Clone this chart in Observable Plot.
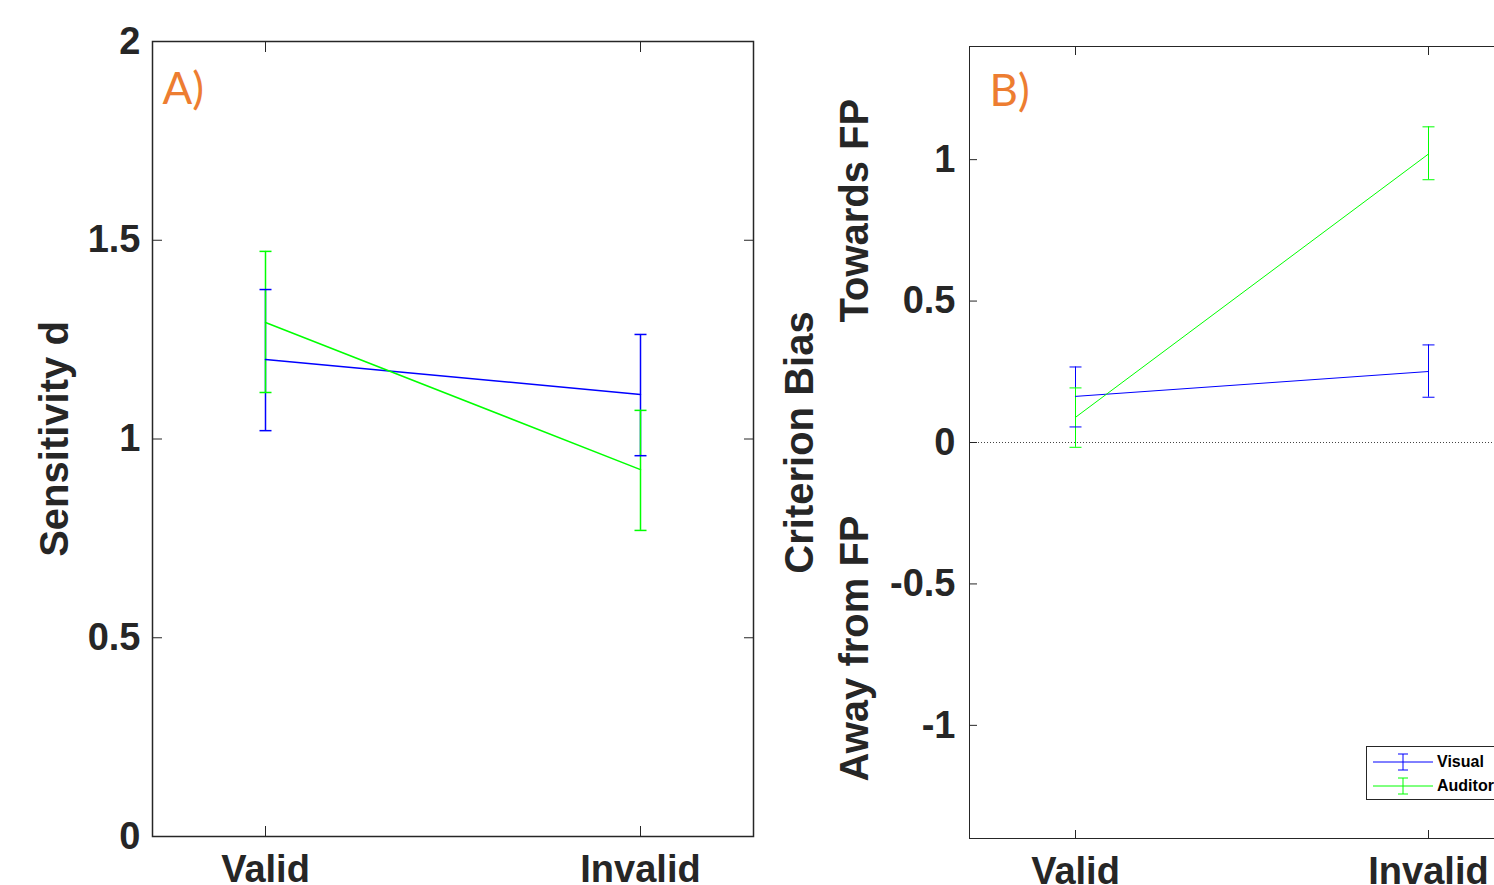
<!DOCTYPE html>
<html>
<head>
<meta charset="utf-8">
<script src="https://cdn.jsdelivr.net/npm/d3@7"></script>
<script src="https://cdn.jsdelivr.net/npm/@observablehq/plot@0.6"></script>
<style>
  html, body { margin: 0; padding: 0; background: #fff; overflow: hidden; }
  #wrap { position: relative; width: 1494px; height: 885px; overflow: hidden; background: #fff; }
  #panelA, #panelB { position: absolute; top: 0; }
  #panelA { left: 0; width: 760px; }
  #panelB { left: 760px; width: 781px; }
  #wrap svg { max-width: none !important; }
  #legend { position: absolute; left: 1366px; top: 746px; width: 150px; height: 52px;
    border: 1px solid #262626; background: #fff; font-family: "Liberation Sans", Arial, sans-serif;
    font-weight: bold; font-size: 16px; color: #000; }
  #legend .row { position: absolute; left: 0; height: 24px; display: flex; align-items: center; }
  #legend svg { display: block; }
  #legend span { margin-left: 4px; }
</style>
</head>
<body>
<div id="wrap">
  <div id="panelA"></div>
  <div id="panelB"></div>
  <div id="legend"></div>
</div>
<script>
// ---- data ----
const categories = ["Valid", "Invalid"];
const series = ["Visual", "Auditory"];
const seriesColors = ["#0000ff", "#00ff00"];
const yTicksA = [0, 0.5, 1, 1.5, 2];
const yTicksB = [-1, -0.5, 0, 0.5, 1];

// Panel A: Sensitivity d
const sensVisualMean = [1.200, 1.112];
const sensVisualLo   = [1.021, 0.958];
const sensVisualHi   = [1.376, 1.263];
const sensAudMean    = [1.293, 0.923];
const sensAudLo      = [1.117, 0.770];
const sensAudHi      = [1.472, 1.072];

// Panel B: Criterion bias
const biasVisualMean = [0.163, 0.251];
const biasVisualLo   = [0.055, 0.160];
const biasVisualHi   = [0.267, 0.345];
const biasAudMean    = [0.089, 1.020];
const biasAudLo      = [-0.017, 0.929];
const biasAudHi      = [0.193, 1.116];

function rows(mean, lo, hi, s) {
  return categories.map((c, i) => ({cat: c, series: s, mean: mean[i], lo: lo[i], hi: hi[i]}));
}
const sensRows = [...rows(sensVisualMean, sensVisualLo, sensVisualHi, "Visual"),
                  ...rows(sensAudMean, sensAudLo, sensAudHi, "Auditory")];
const biasRows = [...rows(biasVisualMean, biasVisualLo, biasVisualHi, "Visual"),
                  ...rows(biasAudMean, biasAudLo, biasAudHi, "Auditory")];

const FONT = "'Liberation Sans', Arial, Helvetica, sans-serif";
const INK = "#262626";
const empty = () => "";

// horizontal cap symbol for error bars (fixed half-width 6px)
const capSymbol = {draw(ctx) { ctx.moveTo(-6, 0); ctx.lineTo(6, 0); }};

function tickAxes(ticks, tickLen) {
  return [
    Plot.axisX({anchor: "bottom", tickSize: -tickLen, tickFormat: empty, label: null, stroke: INK}),
    Plot.axisX({anchor: "top", tickSize: -tickLen, tickFormat: empty, label: null, stroke: INK}),
    Plot.axisY({anchor: "left", ticks, tickSize: -tickLen, tickFormat: empty, label: null, stroke: INK}),
    Plot.axisY({anchor: "right", ticks, tickSize: -tickLen, tickFormat: empty, label: null, stroke: INK})
  ];
}

function dataMarks(data, sw) {
  return [
    Plot.ruleX(data, {x: "cat", y1: "lo", y2: "hi", stroke: "series", strokeWidth: sw}),
    Plot.dot(data, {x: "cat", y: "lo", stroke: "series", fill: "none", symbol: capSymbol, strokeWidth: sw}),
    Plot.dot(data, {x: "cat", y: "hi", stroke: "series", fill: "none", symbol: capSymbol, strokeWidth: sw}),
    Plot.line(data, {x: "cat", y: "mean", z: "series", stroke: "series", strokeWidth: sw})
  ];
}

// ---- Panel A ----
const plotA = Plot.plot({
  width: 760, height: 885,
  marginLeft: 152, marginRight: 7, marginTop: 41, marginBottom: 49,
  style: {fontFamily: FONT, background: "transparent", overflow: "visible"},
  x: {type: "point", domain: categories, padding: 0.3},
  y: {domain: [0, 2]},
  color: {domain: series, range: seriesColors},
  marks: [
    Plot.frame({stroke: INK, strokeWidth: 1.5}),
    ...tickAxes(yTicksA, 10),
    Plot.axisX({anchor: "bottom", tickSize: 0, tickPadding: 19, label: null, fontSize: 38, fontWeight: "bold", fill: INK}),
    Plot.axisY({anchor: "left", ticks: yTicksA, tickSize: 0, tickPadding: 12, tickFormat: d => String(d), label: null, fontSize: 38, fontWeight: "bold", fill: INK}),
    ...dataMarks(sensRows, 1.5),
    Plot.text(["Sensitivity d"], {text: d => d, frameAnchor: "left", textAnchor: "middle", rotate: -90, dx: -97, fontSize: 40, fontWeight: "bold", fill: INK}),
    Plot.text(["A)"], {text: d => d, frameAnchor: "top-left", textAnchor: "start", lineAnchor: "top", dx: 10, dy: 31, fontSize: 44, fontFamily: "Lato, 'Open Sans', sans-serif", fill: "#ED7D31"})
  ]
});
document.getElementById("panelA").appendChild(plotA);

// ---- Panel B ----
const plotB = Plot.plot({
  width: 781, height: 885,
  marginLeft: 209, marginRight: 7, marginTop: 46, marginBottom: 47,
  style: {fontFamily: FONT, background: "transparent", overflow: "visible"},
  x: {type: "point", domain: categories, padding: 0.3},
  y: {domain: [-1.4, 1.4]},
  color: {domain: series, range: seriesColors},
  marks: [
    Plot.frame({stroke: INK, strokeWidth: 1}),
    Plot.ruleY([0], {stroke: "#444", strokeWidth: 1, strokeDasharray: "1,2"}),
    ...tickAxes(yTicksB, 8),
    Plot.axisX({anchor: "bottom", tickSize: 0, tickPadding: 19, label: null, fontSize: 38, fontWeight: "bold", fill: INK}),
    Plot.axisY({anchor: "left", ticks: yTicksB, tickSize: 0, tickPadding: 14, tickFormat: d => String(d), label: null, fontSize: 38, fontWeight: "bold", fill: INK}),
    ...dataMarks(biasRows, 1),
    Plot.text(["Criterion Bias"], {text: d => d, frameAnchor: "left", textAnchor: "middle", rotate: -90, dx: -169, fontSize: 40, fontWeight: "bold", fill: INK}),
    Plot.text(["Towards FP"], {text: d => d, frameAnchor: "left", rotate: -90, textAnchor: "start", dx: -114, dy: -120, fontSize: 40, fontWeight: "bold", fill: INK}),
    Plot.text(["Away from FP"], {text: d => d, frameAnchor: "left", rotate: -90, textAnchor: "end", dx: -114, dy: 73, fontSize: 40, fontWeight: "bold", fill: INK}),
    Plot.text(["B)"], {text: d => d, frameAnchor: "top-left", textAnchor: "start", lineAnchor: "top", dx: 20, dy: 28, fontSize: 44, fontFamily: "Lato, 'Open Sans', sans-serif", fill: "#ED7D31"})
  ]
});
document.getElementById("panelB").appendChild(plotB);

// ---- Legend ----
const legend = document.getElementById("legend");
series.forEach((s, i) => {
  const row = document.createElement("div");
  row.className = "row";
  row.style.top = (3 + i * 24) + "px";
  const color = seriesColors[i];
  row.innerHTML = `<svg width="66" height="24">
    <line x1="6" x2="66" y1="12" y2="12" stroke="${color}" stroke-width="1"/>
    <line x1="36" x2="36" y1="4" y2="20" stroke="${color}" stroke-width="1"/>
    <line x1="31" x2="41" y1="4" y2="4" stroke="${color}" stroke-width="1"/>
    <line x1="31" x2="41" y1="20" y2="20" stroke="${color}" stroke-width="1"/>
  </svg><span>${s}</span>`;
  legend.appendChild(row);
});
</script>
</body>
</html>
